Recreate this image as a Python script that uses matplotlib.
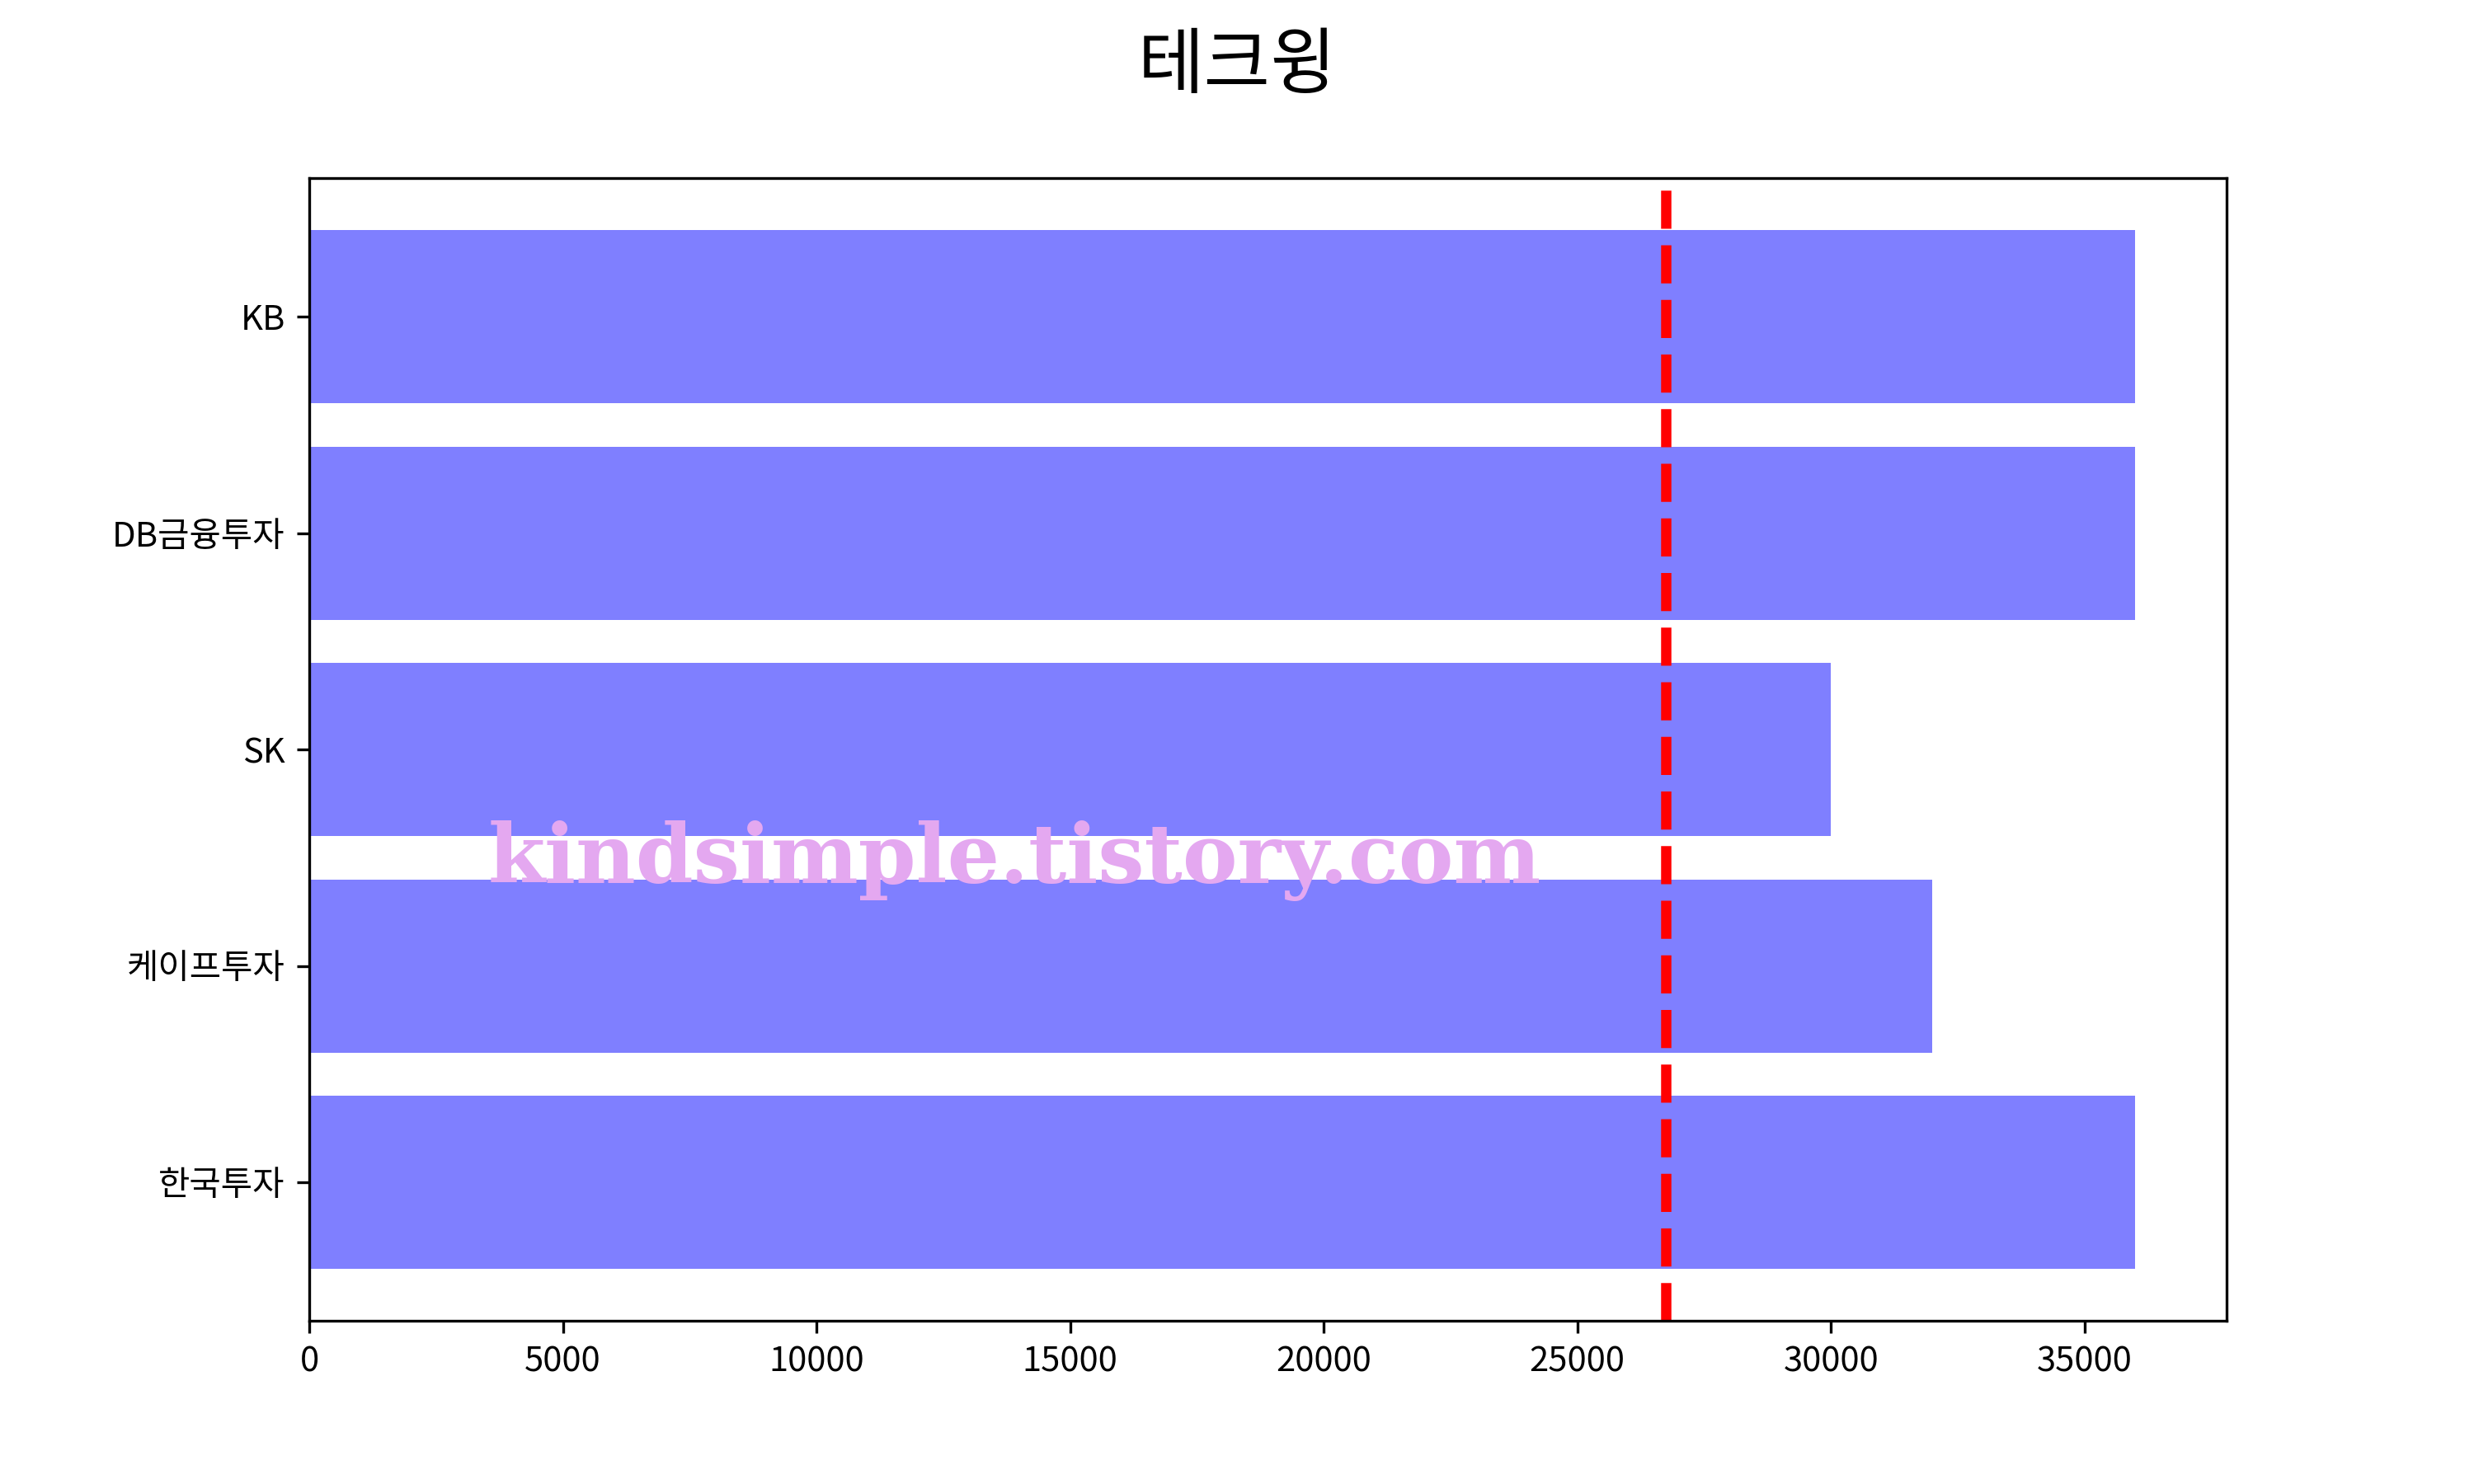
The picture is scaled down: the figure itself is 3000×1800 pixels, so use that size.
import matplotlib
matplotlib.use('Agg')
import matplotlib.pyplot as plt

# 증권사별 목표주가
brokers = ['한국투자', '케이프투자', 'SK', 'DB금융투자', 'KB']
target_prices = [36000, 32000, 30000, 36000, 36000]
current_price = 26750

plt.rcParams['font.family'] = ['Noto Sans CJK KR', 'DejaVu Sans']

fig, ax = plt.subplots(figsize=(10, 6), dpi=300)

ax.barh(brokers, target_prices, color='blue', alpha=0.5)
ax.axvline(current_price, color='red', linestyle='--', linewidth=3)

fig.suptitle('테크윙', fontsize=21, y=0.98)

# 워터마크
fig.text(0.41, 0.42, 'kindsimple.tistory.com', fontsize=24, fontweight='bold',
         family='DejaVu Serif', color='#e4a8f0', ha='center', va='center')

plt.savefig('out.png')
